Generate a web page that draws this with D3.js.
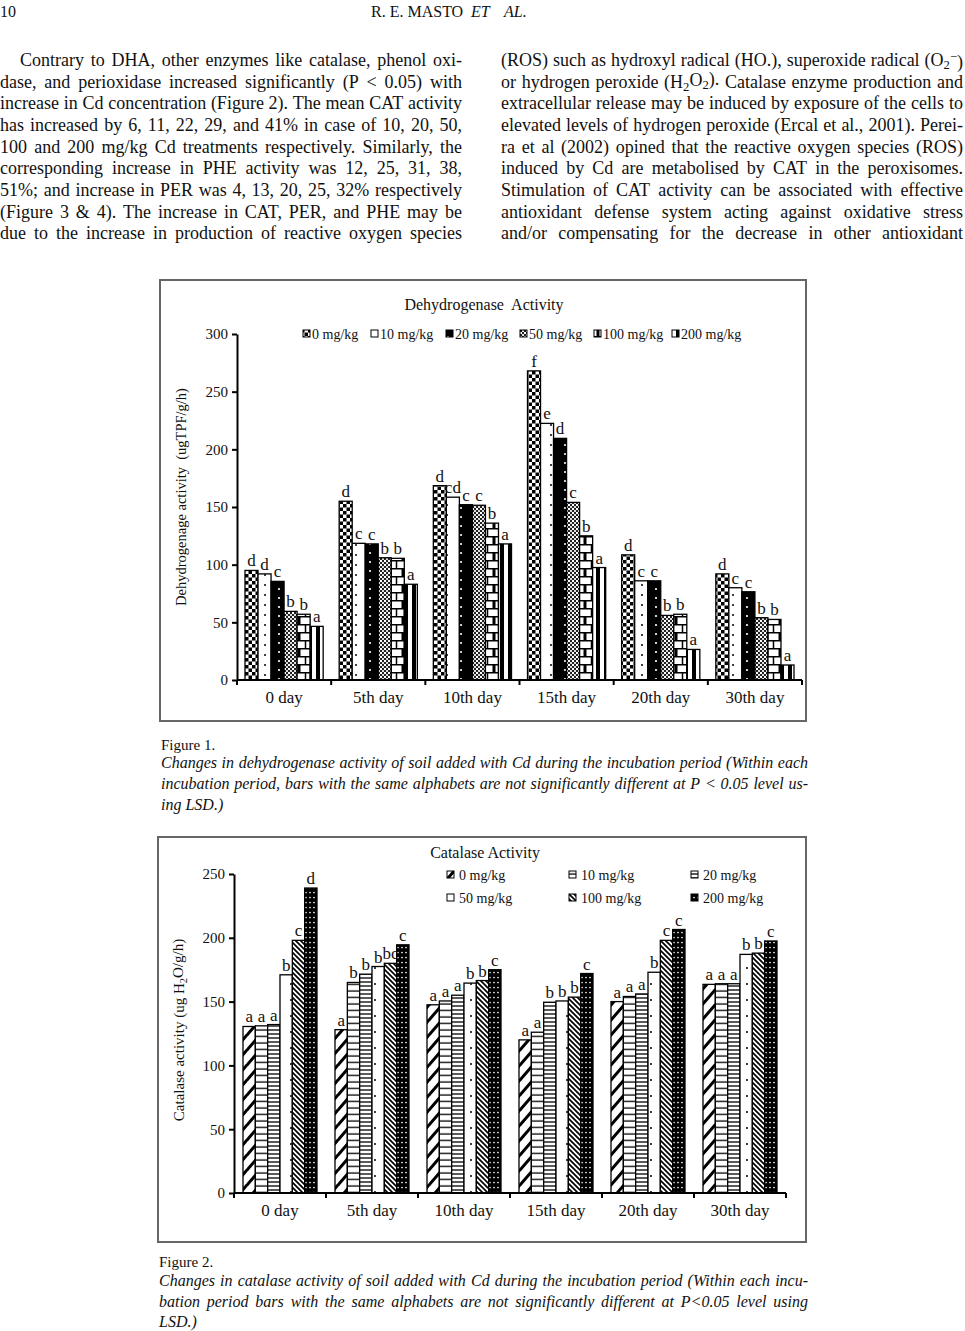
<!DOCTYPE html>
<html><head><meta charset="utf-8">
<script src="https://cdn.jsdelivr.net/npm/d3@7"></script>
<style>
body{margin:0;background:#fff}
svg{display:block}
text{font-family:"Liberation Serif","Times New Roman",serif;fill:#111}
</style>
</head><body>
<svg id="page" width="965" height="1331"></svg>
<script>
// ---------------- DATA ----------------
const days = ["0 day","5th day","10th day","15th day","20th day","30th day"];
const doses = ["0 mg/kg","10 mg/kg","20 mg/kg","50 mg/kg","100 mg/kg","200 mg/kg"];

// Figure 1: dehydrogenase activity (ugTPF/g/h), one array per dose, values per day
const dha0   = [95, 155, 168.5, 268, 108.5, 92];
const dha10  = [92, 118.5, 158.5, 222.5, 86, 80];
const dha20  = [85.5, 118, 152, 209.5, 86, 76.5];
const dha50  = [59.5, 106, 151.5, 154, 56, 54];
const dha100 = [57, 105.5, 136, 125, 57, 52.5];
const dha200 = [46.5, 83, 118, 97.5, 26.5, 13];
const dhaLet0   = ["d","d","d","f","d","d"];
const dhaLet10  = ["d","c","cd","e","c","c"];
const dhaLet20  = ["c","c","c","d","c","c"];
const dhaLet50  = ["b","b","c","c","b","b"];
const dhaLet100 = ["b","b","b","b","b","b"];
const dhaLet200 = ["a","a","a","a","a","a"];
const dhaTicks = [0, 50, 100, 150, 200, 250, 300];

// Figure 2: catalase activity (ug H2O/g/h)
const cat0   = [130.5, 128, 147.5, 120, 150, 163.5];
const cat10  = [131, 165, 150.5, 126, 154, 164];
const cat20  = [132, 171.5, 155, 149.5, 156, 164];
const cat50  = [171, 177.5, 164.5, 150.5, 173, 187];
const cat100 = [198, 180, 166.5, 153.5, 198, 188];
const cat200 = [239, 194.5, 175, 172, 206.5, 197.5];
const catLet0   = ["a","a","a","a","a","a"];
const catLet10  = ["a","b","a","a","a","a"];
const catLet20  = ["a","b","a","b","a","a"];
const catLet50  = ["b","b","b","b","b","b"];
const catLet100 = ["c","bc","b","b","c","b"];
const catLet200 = ["d","c","c","c","c","c"];
const catTicks = [0, 50, 100, 150, 200, 250];

// Text of the page
const headerNum = "10";
const headerAuthor = "R. E. MASTO";
const bodyLeft = [
 "Contrary to DHA, other enzymes like catalase, phenol oxi-",
 "dase, and perioxidase increased significantly (P < 0.05) with",
 "increase in Cd concentration (Figure 2). The mean CAT activity",
 "has increased by 6, 11, 22, 29, and 41% in case of 10, 20, 50,",
 "100 and 200 mg/kg Cd treatments respectively. Similarly, the",
 "corresponding increase in PHE activity was 12, 25, 31, 38,",
 "51%; and increase in PER was 4, 13, 20, 25, 32% respectively",
 "(Figure 3 & 4). The increase in CAT, PER, and PHE may be",
 "due to the increase in production of reactive oxygen species"
];
const bodyRight = [
 "(ROS) such as hydroxyl radical (HO.), superoxide radical (O_{2}^{−})",
 "or hydrogen peroxide (H_{2}O_{2}). Catalase enzyme production and",
 "extracellular release may be induced by exposure of the cells to",
 "elevated levels of hydrogen peroxide (Ercal et al., 2001). Perei-",
 "ra et al (2002) opined that the reactive oxygen species (ROS)",
 "induced by Cd are metabolised by CAT in the peroxisomes.",
 "Stimulation of CAT activity can be associated with effective",
 "antioxidant defense system acting against oxidative stress",
 "and/or compensating for the decrease in other antioxidant"
];
const caption1 = [
 "Changes in dehydrogenase activity of soil added with Cd during the incubation period (Within each",
 "incubation period, bars with the same alphabets are not significantly different at P < 0.05 level us-",
 "ing LSD.)"
];
const caption2 = [
 "Changes in catalase activity of soil added with Cd during the incubation period (Within each incu-",
 "bation period bars with the same alphabets are not significantly different at P<0.05 level using",
 "LSD.)"
];

// ---------------- HELPERS ----------------
const svg = d3.select("#page");
const defs = svg.append("defs");

function rich(sel, str) {
  const parts = str.split(/(_\{[^}]*\}|\^\{[^}]*\})/).filter(s => s.length);
  let shift = 0;
  parts.forEach(p => {
    let target = 0, txt = p, small = false;
    if (p.startsWith("_{")) { target = 0.25; txt = p.slice(2, -1); small = true; }
    else if (p.startsWith("^{")) { target = -0.4; txt = p.slice(2, -1); small = true; }
    const t = sel.append("tspan").text(txt).attr("dy", (target - shift) + "em");
    if (small) t.attr("font-size", "70%");
    shift = target;
  });
}

function textLine(parent, str, x, y, width, o) {
  const fs = o.size, words = str.split(" ");
  const g = parent.append("g");
  const nodes = words.map(w => {
    const t = g.append("text").attr("y", y).attr("font-size", fs).attr("font-style", o.style || "normal");
    rich(t, w); return t;
  });
  const ws = nodes.map(n => n.node().getComputedTextLength());
  const total = d3.sum(ws);
  let gap = fs * 0.25, k = 1;
  if (o.justify && words.length > 1) gap = (width - total) / (words.length - 1);
  if (gap < fs * 0.15) { gap = fs * 0.15; k = (width - gap * (words.length - 1)) / total; }
  let cx = x;
  nodes.forEach((n, i) => {
    n.attr("x", cx);
    if (k < 1) n.attr("textLength", ws[i] * k).attr("lengthAdjust", "spacingAndGlyphs");
    cx += ws[i] * k + gap;
  });
}

function pat(id, w, h, draw) {
  const p = defs.append("pattern").attr("id", id).attr("patternUnits", "userSpaceOnUse")
    .attr("width", w).attr("height", h);
  draw(p, w, h);
}

// Figure 1 patterns
pat("f1p0", 7, 7, p => {
  p.append("rect").attr("width", 7).attr("height", 7).attr("fill", "#fff");
  p.append("rect").attr("width", 3.5).attr("height", 3.5).attr("fill", "#000");
  p.append("rect").attr("x", 3.5).attr("y", 3.5).attr("width", 3.5).attr("height", 3.5).attr("fill", "#000");
});
pat("f1p1", 13, 10, p => {
  p.append("rect").attr("width", 13).attr("height", 10).attr("fill", "#fff");
  p.append("circle").attr("cx", 5).attr("cy", 5).attr("r", 1).attr("fill", "#000");
});
pat("f1p2", 13, 9, p => {
  p.append("rect").attr("width", 13).attr("height", 9).attr("fill", "#000");
  p.append("circle").attr("cx", 6).attr("cy", 4).attr("r", 1.1).attr("fill", "#fff");
});
pat("f1p3", 4, 4, p => {
  p.append("rect").attr("width", 4).attr("height", 4).attr("fill", "#222");
  p.append("rect").attr("width", 2).attr("height", 2).attr("fill", "#fff");
  p.append("rect").attr("x", 2).attr("y", 2).attr("width", 2).attr("height", 2).attr("fill", "#ddd");
});
pat("f1p4", 13, 16, p => {
  p.append("rect").attr("width", 13).attr("height", 16).attr("fill", "#fff");
  p.append("path").attr("d", "M0,0.75H13M0,8.75H13M6.5,0V8.75M0.75,8.75V16M12.25,8.75V16")
    .attr("stroke", "#000").attr("stroke-width", 1.5);
});
pat("f1p5", 8, 8, p => {
  p.append("rect").attr("width", 8).attr("height", 8).attr("fill", "#fff");
  p.append("rect").attr("x", 4).attr("width", 4).attr("height", 8).attr("fill", "#000");
});
// Figure 2 patterns
pat("f2p0", 13, 15, p => {
  p.append("rect").attr("width", 13).attr("height", 15).attr("fill", "#fff");
  p.append("path").attr("d", "M0,15L13,0M-2,2L2,-2M11,17L15,13").attr("stroke", "#000").attr("stroke-width", 3);
});
pat("f2p1", 4, 6.5, p => {
  p.append("rect").attr("width", 4).attr("height", 6.5).attr("fill", "#fff");
  p.append("path").attr("d", "M0,3H4").attr("stroke", "#000").attr("stroke-width", 1.3);
});
pat("f2p2", 4, 4, p => {
  p.append("rect").attr("width", 4).attr("height", 4).attr("fill", "#fff");
  p.append("path").attr("d", "M0,2H4").attr("stroke", "#000").attr("stroke-width", 1.3);
});
pat("f2p3", 12, 16, p => {
  p.append("rect").attr("width", 12).attr("height", 16).attr("fill", "#fff");
  p.append("circle").attr("cx", 3).attr("cy", 8).attr("r", 1).attr("fill", "#000");
});
pat("f2p4", 5, 5, p => {
  p.append("rect").attr("width", 5).attr("height", 5).attr("fill", "#fff");
  p.append("path").attr("d", "M0,0L5,5M-1,4L1,6M4,-1L6,1").attr("stroke", "#000").attr("stroke-width", 1.7);
});
pat("f2p5", 4, 5, p => {
  p.append("rect").attr("width", 4).attr("height", 5).attr("fill", "#000");
  p.append("circle").attr("cx", 2).attr("cy", 2.5).attr("r", 0.85).attr("fill", "#fff");
});

// ---------------- CHART ----------------
function drawChart(c) {
  const g = svg.append("g");
  g.append("rect").attr("x", c.box[0]).attr("y", c.box[1]).attr("width", c.box[2]).attr("height", c.box[3])
    .attr("fill", "#fff").attr("stroke", "#666").attr("stroke-width", 2);
  g.append("text").attr("x", c.titleX).attr("y", c.titleY).attr("text-anchor", "middle")
    .attr("font-size", 16).style("white-space", "pre").text(c.title);

  const x0 = d3.scaleBand().domain(days).range([c.xl, c.xr]);
  const x1 = d3.scaleBand().domain(doses).range([c.inPad, x0.bandwidth() - c.inPad]);
  const y = d3.scaleLinear().domain([0, c.ymax]).range([c.y0, c.ytop]);

  c.series.forEach((vals, si) => {
    const data = vals.map((v, i) => ({ v, day: days[i], lab: c.letters[si][i] }));
    g.append("g").selectAll("rect").data(data).join("rect")
      .attr("x", d => x0(d.day) + x1(doses[si]))
      .attr("y", d => y(d.v))
      .attr("width", x1.bandwidth())
      .attr("height", d => y(0) - y(d.v))
      .attr("fill", `url(#${c.pats[si]})`)
      .attr("stroke", "#000").attr("stroke-width", 1.3);
    g.append("g").selectAll("text").data(data).join("text")
      .attr("x", d => x0(d.day) + x1(doses[si]) + x1.bandwidth() / 2)
      .attr("y", d => y(d.v) - 4)
      .attr("text-anchor", "middle").attr("font-size", c.letterSize)
      .text(d => d.lab);
  });

  // y axis
  const ya = g.append("g").attr("transform", `translate(${c.xl},0)`)
    .call(d3.axisLeft(y).tickValues(c.yticks).tickSize(5).tickSizeOuter(0).tickPadding(4));
  ya.attr("font-family", null).attr("font-size", null);
  ya.select(".domain").attr("stroke", "#000").attr("stroke-width", 2);
  ya.selectAll(".tick line").attr("stroke", "#000").attr("stroke-width", 2);
  ya.selectAll(".tick text").attr("font-size", 15).attr("fill", "#111");

  // x axis with boundary ticks
  const xa = g.append("g");
  xa.append("line").attr("x1", c.xl).attr("x2", c.xr).attr("y1", c.y0).attr("y2", c.y0)
    .attr("stroke", "#000").attr("stroke-width", 2);
  const bounds = days.map(d => x0(d)).concat([x0(days[days.length - 1]) + x0.bandwidth()]);
  xa.selectAll("line.tk").data(bounds).join("line").attr("class", "tk")
    .attr("x1", d => d).attr("x2", d => d).attr("y1", c.y0).attr("y2", c.y0 + 5)
    .attr("stroke", "#000").attr("stroke-width", 2);
  xa.selectAll("text").data(days).join("text")
    .attr("x", d => x0(d) + x0.bandwidth() / 2).attr("y", c.xlabY)
    .attr("text-anchor", "middle").attr("font-size", 17).text(d => d);

  // y label
  const yl = g.append("text").attr("transform", `translate(${c.ylab[0]},${c.ylab[1]}) rotate(-90)`)
    .attr("text-anchor", "middle").attr("dy", "0.35em").attr("font-size", c.ylabSize).style("white-space", "pre");
  rich(yl, c.ylabText);

  // legend
  c.legend.forEach((L, i) => {
    g.append("rect").attr("x", L[0]).attr("y", L[1] - 4).attr("width", 7).attr("height", 7)
      .attr("fill", `url(#${c.pats[i]})`).attr("stroke", "#000").attr("stroke-width", 1);
    g.append("text").attr("x", L[0] + c.legGap).attr("y", L[1] + 4.5).attr("font-size", 14).text(doses[i]);
  });
}

drawChart({
  box: [160, 280, 646, 441], title: "Dehydrogenase  Activity", titleX: 484, titleY: 310,
  xl: 237, xr: 802, y0: 680, ytop: 334, ymax: 300, yticks: dhaTicks, inPad: 8,
  series: [dha0, dha10, dha20, dha50, dha100, dha200],
  letters: [dhaLet0, dhaLet10, dhaLet20, dhaLet50, dhaLet100, dhaLet200],
  pats: ["f1p0", "f1p1", "f1p2", "f1p3", "f1p4", "f1p5"],
  letterSize: 17, xlabY: 703,
  ylab: [186, 497], ylabSize: 14.5, ylabText: "Dehydrogenage activity  (ugTPF/g/h)",
  legend: [[303, 334], [371, 334], [446, 334], [520, 334], [594, 334], [672, 334]], legGap: 9
});

drawChart({
  box: [158, 837, 648, 405], title: "Catalase Activity", titleX: 485, titleY: 858,
  xl: 234, xr: 786, y0: 1193, ytop: 874, ymax: 250, yticks: catTicks, inPad: 9,
  series: [cat0, cat10, cat20, cat50, cat100, cat200],
  letters: [catLet0, catLet10, catLet20, catLet50, catLet100, catLet200],
  pats: ["f2p0", "f2p1", "f2p2", "f2p3", "f2p4", "f2p5"],
  letterSize: 17, xlabY: 1216,
  ylab: [184, 1030], ylabSize: 15, ylabText: "Catalase activity (ug H_{2}O/g/h)",
  legend: [[447, 875], [569, 875], [691, 875], [447, 898], [569, 898], [691, 898]], legGap: 12
});

// ---------------- PAGE TEXT ----------------
const page = svg.append("g");
page.append("text").attr("x", 0).attr("y", 17).attr("font-size", 16).text(headerNum);
page.append("text").attr("x", 371).attr("y", 17).attr("font-size", 16).text(headerAuthor);
page.append("text").attr("x", 471).attr("y", 17).attr("font-size", 16).attr("font-style", "italic").text("ET");
page.append("text").attr("x", 504).attr("y", 17).attr("font-size", 16).attr("font-style", "italic").text("AL.");

bodyLeft.forEach((s, i) => {
  const x = i === 0 ? 20 : 0;
  textLine(page, s, x, 66 + i * 21.65, 462 - x, { size: 18, justify: true });
});
bodyRight.forEach((s, i) => {
  textLine(page, s, 501, 66 + i * 21.65, 462, { size: 18, justify: true });
});

page.append("text").attr("x", 161).attr("y", 750).attr("font-size", 15).text("Figure 1.");
caption1.forEach((s, i) => textLine(page, s, 161, 768 + i * 21, 647, { size: 16, style: "italic", justify: i < caption1.length - 1 }));
page.append("text").attr("x", 159).attr("y", 1267).attr("font-size", 15).text("Figure 2.");
caption2.forEach((s, i) => textLine(page, s, 159, 1286 + i * 20.5, 649, { size: 16, style: "italic", justify: i < caption2.length - 1 }));
</script>
</body></html>
